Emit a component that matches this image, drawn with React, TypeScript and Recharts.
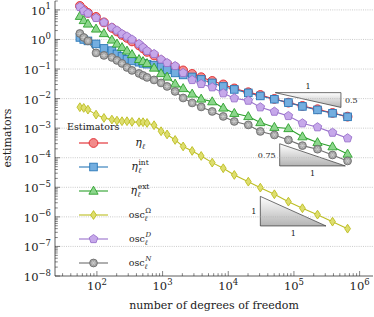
import React from 'react';
import { LineChart, Line, XAxis, YAxis, ReferenceLine, ReferenceArea, Legend } from 'recharts';

// number of degrees of freedom on each adaptive mesh
const dofs = [55, 63, 73, 97, 128, 169, 202, 241, 287, 342, 438, 504, 580, 742, 949, 1171, 1552, 2056, 2820, 3870, 5700, 8390, 12360, 20200, 30800, 50400, 82400, 134800, 228500, 387000, 656000];

const eta = [13.6, 10.0, 7.91, 5.8, 3.78, 2.46, 1.87, 1.43, 1.13, 0.86, 0.63, 0.498, 0.38, 0.289, 0.196, 0.149, 0.118, 0.0898, 0.0684, 0.0529, 0.0396, 0.0302, 0.0221, 0.0164, 0.0133, 0.00976, 0.00731, 0.00565, 0.00437, 0.00328, 0.00246];
const etaInt = [1.17, 1.0, 0.894, 0.708, 0.498, 0.42, 0.325, 0.267, 0.212, 0.188, 0.17, 0.155, 0.146, 0.136, 0.118, 0.0934, 0.0739, 0.0632, 0.0541, 0.0445, 0.0339, 0.0258, 0.0204, 0.0156, 0.0123, 0.00953, 0.00731, 0.00544, 0.00414, 0.0032, 0.00242];
const etaExt = [6.12, 4.41, 3.36, 2.28, 1.6, 0.966, 0.708, 0.539, 0.41, 0.312, 0.212, 0.181, 0.155, 0.109, 0.0711, 0.0541, 0.0314, 0.0221, 0.0144, 0.00976, 0.0079, 0.00484, 0.0032, 0.0025, 0.00156, 0.00108, 0.00098, 0.000517, 0.000329, 0.000237, 0.000134];
const oscOmega = [0.00511, 0.00484, 0.00424, 0.00287, 0.00222, 0.00195, 0.0018, 0.00172, 0.00172, 0.00163, 0.00159, 0.00159, 0.0015, 0.00126, 0.000788, 0.000614, 0.0004, 0.000241, 0.00017, 0.000115, 6.83e-5, 4.41e-5, 2.62e-5, 1.55e-5, 9.74e-6, 5.82e-6, 3.27e-6, 1.96e-6, 1.19e-6, 6.89e-7, 3.99e-7];
const oscD = [12.6, 9.25, 7.62, 5.36, 3.78, 2.56, 2.03, 1.54, 1.27, 1.0, 0.708, 0.539, 0.41, 0.325, 0.212, 0.161, 0.127, 0.0739, 0.0428, 0.0314, 0.0243, 0.0152, 0.0103, 0.00855, 0.00511, 0.00363, 0.00259, 0.00147, 0.00108, 0.000706, 0.000457];
const oscN = [1.6, 1.17, 0.894, 0.351, 0.289, 0.247, 0.196, 0.155, 0.113, 0.0898, 0.0711, 0.0608, 0.0521, 0.0428, 0.0339, 0.0258, 0.0175, 0.0105, 0.00714, 0.00523, 0.00368, 0.0025, 0.00169, 0.00129, 0.000776, 0.000591, 0.0004, 0.000257, 0.000194, 0.000124, 7.79e-5];

// slope triangles (corners in data units) and their labels
const triX1 = [5.2e4, 6.07e4, 3.08e4];
const triY1 = [0.00503, 5.28e-5, 4.93e-7];
const triY2 = [0.0159, 2.97e-4, 4.93e-6];
const triRise = ['0.5', '0.75', '1'];
const triRun = ['1', '1', '1'];

const xDecades = [1e2, 1e3, 1e4, 1e5, 1e6];
const yDecades = [1e-8, 1e-7, 1e-6, 1e-5, 1e-4, 1e-3, 1e-2, 1e-1, 1e0, 1e1];

const X_DOMAIN: [number, number] = [23, 1.6e6];
const Y_DOMAIN: [number, number] = [1e-8, 20];

const FONT = '"DejaVu Serif", serif';
const INK = '#222';
const FRAME = '#333';

const minorTicks = (lo: number, hi: number) => {
  const out: number[] = [];
  for (let e = Math.floor(Math.log10(lo)); e <= Math.ceil(Math.log10(hi)); e++) {
    for (let m = 1; m <= 9; m++) {
      const v = m * Math.pow(10, e);
      if (v >= lo && v <= hi) out.push(v);
    }
  }
  return out;
};
const xTicks = minorTicks(X_DOMAIN[0], X_DOMAIN[1]);
const yTicks = minorTicks(Y_DOMAIN[0], Y_DOMAIN[1]);

const isDecade = (v: number) => Math.abs(Math.log10(v) - Math.round(Math.log10(v))) < 1e-6;
const expLabel = (v: number) => {
  const e = Math.round(Math.log10(v));
  return e < 0 ? '\u2212' + -e : String(e);
};

const data = dofs.map((n, i) => ({
  n,
  eta: eta[i],
  etaInt: etaInt[i],
  etaExt: etaExt[i],
  oscOmega: oscOmega[i],
  oscD: oscD[i],
  oscN: oscN[i],
}));

type Shape = 'circle' | 'square' | 'triangle' | 'diamond' | 'pentagon' | 'gear';

const series: { key: string; shape: Shape; stroke: string; fill: string; label: string; sup: string }[] = [
  { key: 'eta', shape: 'circle', stroke: '#e0262b', fill: '#f28b8b', label: 'eta', sup: '' },
  { key: 'etaInt', shape: 'square', stroke: '#2a78b8', fill: '#74aee0', label: 'eta', sup: 'int' },
  { key: 'etaExt', shape: 'triangle', stroke: '#2ca02c', fill: '#8cd68c', label: 'eta', sup: 'ext' },
  { key: 'oscOmega', shape: 'diamond', stroke: '#bcbd22', fill: '#dede6e', label: 'osc', sup: '\u03a9' },
  { key: 'oscD', shape: 'pentagon', stroke: '#9a72cc', fill: '#c6a8ea', label: 'osc', sup: 'D' },
  { key: 'oscN', shape: 'gear', stroke: '#6e6e6e', fill: '#a2a2a2', label: 'osc', sup: 'N' },
];

function Marker({ shape, cx, cy, stroke, fill }: { shape: Shape; cx: number; cy: number; stroke: string; fill: string }) {
  const sw = 0.9;
  if (cx == null || cy == null || isNaN(cx) || isNaN(cy)) return <g />;
  switch (shape) {
    case 'circle':
      return <circle cx={cx} cy={cy} r={4.4} fill={fill} stroke={stroke} strokeWidth={sw} />;
    case 'square':
      return <rect x={cx - 3.8} y={cy - 3.8} width={7.6} height={7.6} fill={fill} stroke={stroke} strokeWidth={sw} />;
    case 'triangle':
      return <polygon points={`${cx},${cy - 4.8} ${cx + 4.6},${cy + 3.2} ${cx - 4.6},${cy + 3.2}`} fill={fill} stroke={stroke} strokeWidth={sw} />;
    case 'diamond':
      return <polygon points={`${cx},${cy - 4.4} ${cx + 2.9},${cy} ${cx},${cy + 4.4} ${cx - 2.9},${cy}`} fill={fill} stroke={stroke} strokeWidth={sw} />;
    case 'pentagon': {
      const pts = [0, 1, 2, 3, 4]
        .map((k) => {
          const a = -Math.PI / 2 + (k * 2 * Math.PI) / 5;
          return `${cx + 4.5 * Math.cos(a)},${cy + 4.5 * Math.sin(a)}`;
        })
        .join(' ');
      return <polygon points={pts} fill={fill} stroke={stroke} strokeWidth={sw} />;
    }
    default:
      return (
        <g>
          <circle cx={cx} cy={cy} r={3.9} fill={fill} stroke={stroke} strokeWidth={sw} />
          {[0, 60, 120].map((a) => (
            <line
              key={a}
              x1={cx - 2.6 * Math.cos((a * Math.PI) / 180)}
              y1={cy - 2.6 * Math.sin((a * Math.PI) / 180)}
              x2={cx + 2.6 * Math.cos((a * Math.PI) / 180)}
              y2={cy + 2.6 * Math.sin((a * Math.PI) / 180)}
              stroke="#d4d4d4"
              strokeWidth={0.7}
            />
          ))}
        </g>
      );
  }
}

function MathLabel({ label, sup, x, y }: { label: string; sup: string; x: number; y: number }) {
  if (label === 'eta') {
    return (
      <text x={x} y={y} textAnchor="middle" fontFamily={FONT} fontSize={11} fill={INK}>
        <tspan fontStyle="italic">η</tspan>
        <tspan fontStyle="italic" fontSize={7.5} dy={2.5}>ℓ</tspan>
        {sup && <tspan fontSize={7.5} dx={-2.6} dy={-8}>{sup}</tspan>}
      </text>
    );
  }
  return (
    <text x={x} y={y} textAnchor="middle" fontFamily={FONT} fontSize={9.5} fill={INK}>
      <tspan>osc</tspan>
      <tspan fontStyle="italic" fontSize={7} dy={2.5}>ℓ</tspan>
      <tspan fontSize={7} fontStyle={sup === '\u03a9' ? 'normal' : 'italic'} dx={-2.4} dy={-7.5}>{sup}</tspan>
    </text>
  );
}

function LegendBox() {
  return (
    <svg width={130} height={160} style={{ display: 'block', overflow: 'visible' }}>
      <text x={7} y={12} fontFamily={FONT} fontSize={9.5} fill={INK}>Estimators</text>
      {series.map((s, i) => {
        const cy = 25 + 24 * i;
        return (
          <g key={s.key}>
            <line x1={19} x2={48} y1={cy} y2={cy} stroke={s.stroke} strokeWidth={1.1} />
            <Marker shape={s.shape} cx={33.5} cy={cy} stroke={s.stroke} fill={s.fill} />
            <MathLabel label={s.label} sup={s.sup} x={80} y={cy + 3} />
          </g>
        );
      })}
    </svg>
  );
}

function LeftTick(p: any) {
  const { x, y, payload } = p;
  const major = isDecade(payload.value);
  return (
    <g>
      <line x1={x} x2={x + (major ? 5 : 2.8)} y1={y} y2={y} stroke={FRAME} strokeWidth={0.6} />
      {major && (
        <text x={x - 4} y={y + 5} textAnchor="end" fontFamily={FONT} fontSize={11.5} fill={INK}>
          10<tspan dy={-5.5} fontSize={8.5}>{expLabel(payload.value)}</tspan>
        </text>
      )}
    </g>
  );
}

function RightTick(p: any) {
  const { x, y, payload } = p;
  const major = isDecade(payload.value);
  return <line x1={x} x2={x - (major ? 5 : 2.8)} y1={y} y2={y} stroke={FRAME} strokeWidth={0.6} />;
}

function BottomTick(p: any) {
  const { x, y, payload } = p;
  const major = isDecade(payload.value);
  return (
    <g>
      <line x1={x} x2={x} y1={y} y2={y - (major ? 5 : 2.8)} stroke={FRAME} strokeWidth={0.6} />
      {major && (
        <text x={x} y={y + 14} textAnchor="middle" fontFamily={FONT} fontSize={11.5} fill={INK}>
          10<tspan dy={-5.5} fontSize={8.5}>{expLabel(payload.value)}</tspan>
        </text>
      )}
    </g>
  );
}

function TopTick(p: any) {
  const { x, y, payload } = p;
  const major = isDecade(payload.value);
  return <line x1={x} x2={x} y1={y} y2={y + (major ? 5 : 2.8)} stroke={FRAME} strokeWidth={0.6} />;
}

function slopeShape(i: number) {
  return (p: any) => {
    const { x, y, width: w, height: h } = p;
    const id = `slopeGrad${i}`;
    const down = i === 0;
    const path = down
      ? `M${x},${y} L${x + w},${y} L${x + w},${y + h} Z`
      : `M${x},${y} L${x},${y + h} L${x + w},${y + h} Z`;
    return (
      <g>
        <defs>
          <linearGradient id={id} x1="0" y1="0" x2="0" y2="1">
            <stop offset="0%" stopColor="#ffffff" />
            <stop offset="100%" stopColor="#b4b4b4" />
          </linearGradient>
        </defs>
        <path d={path} fill={`url(#${id})`} stroke={FRAME} strokeWidth={0.7} />
        {down ? (
          <>
            <text x={x + w / 2} y={y - 4} textAnchor="middle" fontFamily={FONT} fontSize={8} fill={INK}>{triRun[i]}</text>
            <text x={x + w + 4} y={y + h / 2 + 3} textAnchor="start" fontFamily={FONT} fontSize={8} fill={INK}>{triRise[i]}</text>
          </>
        ) : (
          <>
            <text x={x - 4} y={y + h / 2 + 3} textAnchor="end" fontFamily={FONT} fontSize={8} fill={INK}>{triRise[i]}</text>
            <text x={x + w / 2} y={y + h + 10} textAnchor="middle" fontFamily={FONT} fontSize={8} fill={INK}>{triRun[i]}</text>
          </>
        )}
      </g>
    );
  };
}

export default function App() {
  return (
    <div style={{ position: 'absolute', left: 0, top: 0 }}>
      <LineChart width={374} height={317} data={data} margin={{ top: 1, right: 1, bottom: 0, left: 0 }}>
        <XAxis
          dataKey="n"
          type="number"
          scale="log"
          domain={X_DOMAIN}
          allowDataOverflow
          ticks={xTicks}
          interval={0}
          tickSize={0}
          tickMargin={0}
          tickLine={false}
          tick={(p: any) => <BottomTick {...p} />}
          height={41}
          axisLine={{ stroke: FRAME, strokeWidth: 0.8 }}
          label={() => (
            <text x={214} y={309} textAnchor="middle" fontFamily={FONT} fontSize={11} fill={INK}>
              number of degrees of freedom
            </text>
          )}
        />
        <XAxis
          xAxisId="top"
          orientation="top"
          dataKey="n"
          type="number"
          scale="log"
          domain={X_DOMAIN}
          allowDataOverflow
          ticks={xTicks}
          interval={0}
          tickSize={0}
          tickMargin={0}
          tickLine={false}
          tick={(p: any) => <TopTick {...p} />}
          height={0}
          axisLine={{ stroke: FRAME, strokeWidth: 0.8 }}
        />
        <YAxis
          type="number"
          scale="log"
          domain={Y_DOMAIN}
          allowDataOverflow
          ticks={yTicks}
          interval={0}
          tickSize={0}
          tickMargin={0}
          tickLine={false}
          tick={(p: any) => <LeftTick {...p} />}
          width={55}
          axisLine={{ stroke: FRAME, strokeWidth: 0.8 }}
          label={() => (
            <text x={10.5} y={138} transform="rotate(-90 10.5 138)" textAnchor="middle" fontFamily={FONT} fontSize={11} fill={INK}>
              estimators
            </text>
          )}
        />
        <YAxis
          yAxisId="right"
          orientation="right"
          type="number"
          scale="log"
          domain={Y_DOMAIN}
          allowDataOverflow
          ticks={yTicks}
          interval={0}
          tickSize={0}
          tickMargin={0}
          tickLine={false}
          tick={(p: any) => <RightTick {...p} />}
          width={0}
          axisLine={{ stroke: FRAME, strokeWidth: 0.8 }}
        />
        {yDecades.slice(1).map((v) => (
          <ReferenceLine key={v} y={v} stroke="#b4b4b4" strokeWidth={0.7} strokeDasharray="1 1.2" />
        ))}
        {triX1.map((x1, i) => (
          <ReferenceArea
            key={i}
            x1={x1}
            x2={x1 * 10}
            y1={triY1[i]}
            y2={triY2[i]}
            shape={slopeShape(i)}
          />
        ))}
        {series.map((s) => (
          <Line
            key={s.key}
            dataKey={s.key}
            stroke={s.stroke}
            strokeWidth={1.1}
            isAnimationActive={false}
            activeDot={false}
            dot={(p: any) => (
              <Marker key={`${s.key}-${p.index}`} shape={s.shape} cx={p.cx} cy={p.cy} stroke={s.stroke} fill={s.fill} />
            )}
          />
        ))}
        <Legend
          layout="horizontal"
          verticalAlign="middle"
          align="center"
          content={() => <LegendBox />}
          wrapperStyle={{ left: 60, top: 118, width: 130, height: 160 }}
        />
      </LineChart>
    </div>
  );
}
